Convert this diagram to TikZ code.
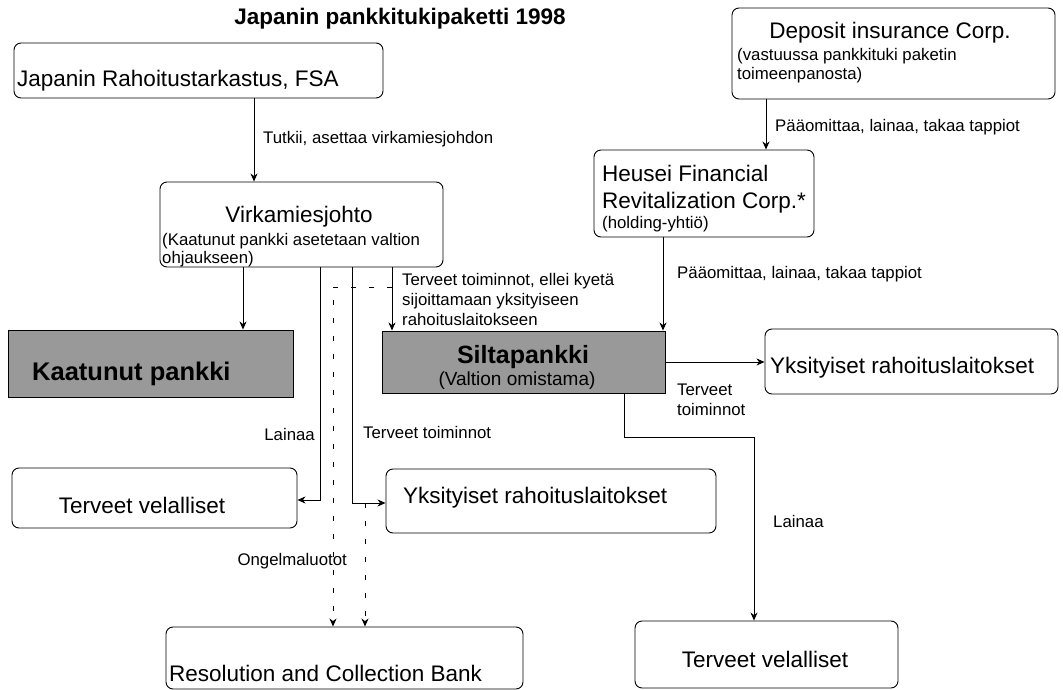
\documentclass[tikz,border=0pt]{standalone}
\usepackage{fontspec}
\setmainfont{Liberation Sans}
\usetikzlibrary{arrows.meta}
\begin{document}
\begin{tikzpicture}[x=1pt,y=-1pt,
  box/.style={draw, line width=0.9pt, rounded corners=7pt, inner sep=0pt},
  gbox/.style={draw, line width=0.9pt, fill=black!40, inner sep=0pt},
  arr/.style={line width=0.9pt, -{Stealth[length=8pt,width=7pt,inset=2.5pt]}},
  dsh/.style={arr, dash pattern=on 5pt off 13pt},
  lab/.style={font=\fontsize{16.8}{20}\selectfont, inner sep=0pt},
  big/.style={font=\fontsize{22.5}{27}\selectfont, inner sep=0pt},
  ttl/.style={font=\fontsize{22.5}{27}\selectfont\bfseries, inner sep=0pt},
  bbig/.style={font=\fontsize{25.5}{30}\selectfont\bfseries, inner sep=0pt},
  mid/.style={font=\fontsize{19}{23}\selectfont, inner sep=0pt},
]
\useasboundingbox (0,0) rectangle (1063,690);

% boxes
\node[box, minimum width=369pt, minimum height=55pt] (fsa) at (198.5,70.5) {};
\node[box, minimum width=283pt, minimum height=85pt] (vir) at (301.5,224.5) {};
\node[box, minimum width=323pt, minimum height=91pt] (dic) at (893.5,53.5) {};
\node[box, minimum width=220pt, minimum height=87pt] (hfr) at (704,193.5) {};
\node[gbox, minimum width=285pt, minimum height=67pt] (kp) at (150.5,363.5) {};
\node[gbox, minimum width=283pt, minimum height=62pt] (sp) at (523.5,362) {};
\node[box, minimum width=293pt, minimum height=65pt] (yr1) at (911.5,361.5) {};
\node[box, minimum width=285pt, minimum height=60pt] (tv1) at (154.5,498) {};
\node[box, minimum width=330pt, minimum height=64pt] (yr2) at (551,501) {};
\node[box, minimum width=357pt, minimum height=62pt] (rcb) at (344.5,658) {};
\node[box, minimum width=263pt, minimum height=67pt] (tv2) at (766.5,654.5) {};

% texts
\node[ttl, anchor=base] (title) at (400,25) {Japanin pankkitukipaketti 1998};
\node[big, anchor=base west] (fsat) at (17,87) {Japanin Rahoitustarkastus, FSA};
\node[big, anchor=base] (virt) at (299,222) {Virkamiesjohto};
\node[lab, anchor=base west] (virs1) at (162,245) {(Kaatunut pankki asetetaan valtion};
\node[lab, anchor=base west] (virs2) at (162,263) {ohjaukseen)};
\node[big, anchor=base] (dict) at (890,39) {Deposit insurance Corp.};
\node[lab, anchor=base west] (dics1) at (737,61) {(vastuussa pankkituki paketin};
\node[lab, anchor=base west] (dics2) at (737,80) {toimeenpanosta)};
\node[big, anchor=base west] (hfrt1) at (602,182) {Heusei Financial};
\node[big, anchor=base west] (hfrt2) at (602,208) {Revitalization Corp.*};
\node[lab, anchor=base west] (hfrs) at (602,228) {(holding-yhtiö)};
\node[bbig, anchor=base west] (kpt) at (32,380) {Kaatunut pankki};
\node[font=\fontsize{25}{30}\selectfont\bfseries, inner sep=0pt, anchor=base] (spt) at (523,363) {Siltapankki};
\node[mid, anchor=base] (sps) at (517,385) {(Valtion omistama)};
\node[big, anchor=base west] (yr1t) at (770,373) {Yksityiset rahoituslaitokset};
\node[big, anchor=base] (tv1t) at (142,513) {Terveet velalliset};
\node[big, anchor=base west] (yr2t) at (403,503) {Yksityiset rahoituslaitokset};
\node[big, anchor=base west] (rcbt) at (169,681) {Resolution and Collection Bank};
\node[big, anchor=base] (tv2t) at (765,667) {Terveet velalliset};

% connectors
\draw[arr] (254,0 |- fsa.south) -- (254,0 |- vir.north);
\draw[arr] (243,0 |- vir.south) -- (243,0 |- kp.north);
\coordinate (b1) at (320,500);
\draw[arr] (320,0 |- vir.south) -- (b1) -- (b1 -| tv1.east);
\coordinate (b2) at (352,503);
\draw[arr] (352,0 |- vir.south) -- (b2) -- (b2 -| yr2.west);
\draw[arr] (392,0 |- vir.south) -- (392,0 |- sp.north);
\coordinate (d1) at (392,287);
\coordinate (d1b) at (333,287);
\draw[dsh] (d1) -- (d1b) -- (d1b |- rcb.north);
\coordinate (d2) at (365,503);
\draw[dsh] (d2) -- (d2 |- rcb.north);
\draw[arr] (766,0 |- dic.south) -- (766,0 |- hfr.north);
\draw[arr] (663,0 |- hfr.south) -- (663,0 |- sp.north);
\draw[arr] (sp.east) -- (sp.east -| yr1.west);
\coordinate (b3) at (624,437);
\coordinate (b4) at (754,437);
\draw[arr] (624,0 |- sp.south) -- (b3) -- (b4) -- (b4 |- tv2.north);

% connector labels
\node[lab, anchor=base west] (l1) at (263,143) {Tutkii, asettaa virkamiesjohdon};
\node[lab, anchor=base west] (l2) at (775,132) {Pääomittaa, lainaa, takaa tappiot};
\node[lab, anchor=base west] (l3) at (677,278) {Pääomittaa, lainaa, takaa tappiot};
\node[lab, anchor=base west] (l4a) at (402,285) {Terveet toiminnot, ellei kyetä};
\node[lab, anchor=base west] (l4b) at (402,305) {sijoittamaan yksityiseen};
\node[lab, anchor=base west] (l4c) at (402,325) {rahoituslaitokseen};
\node[lab, anchor=base east] (l5) at (315,440) {Lainaa};
\node[lab, anchor=base west] (l6) at (363,438) {Terveet toiminnot};
\node[lab, anchor=base east] (l7) at (347,565) {Ongelmaluotot};
\node[lab, anchor=base west] (l8a) at (677,395) {Terveet};
\node[lab, anchor=base west] (l8b) at (677,415) {toiminnot};
\node[lab, anchor=base west] (l9) at (773,527) {Lainaa};
\end{tikzpicture}
\end{document}
